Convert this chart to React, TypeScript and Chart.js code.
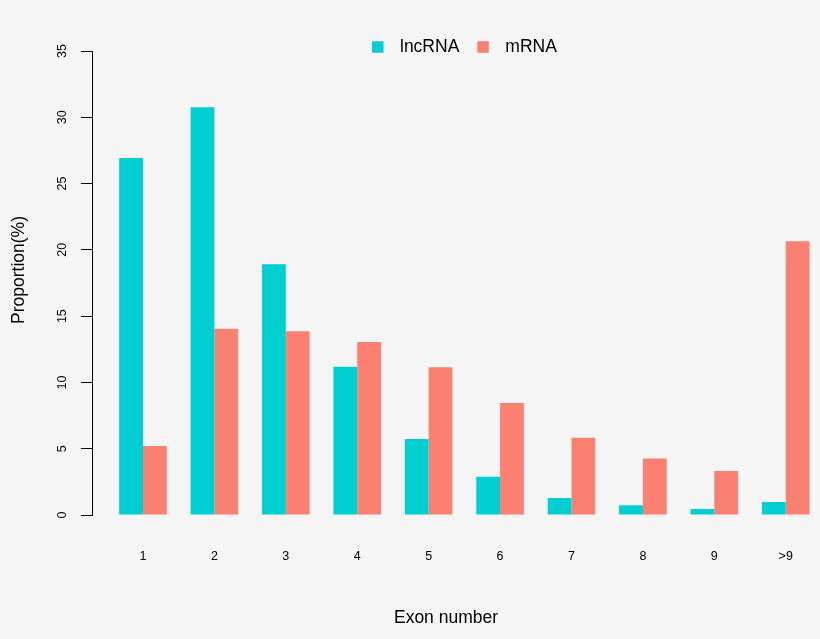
import React, { useEffect, useRef } from "react";
import { Chart, registerables } from "chart.js";

Chart.register(...registerables);

const categories = ["1", "2", "3", "4", "5", "6", "7", "8", "9", ">9"];
const lncRNA = [26.93, 30.75, 18.91, 11.19, 5.73, 2.89, 1.28, 0.73, 0.45, 0.98];
const mRNA = [5.2, 14.05, 13.86, 13.05, 11.14, 8.45, 5.83, 4.27, 3.32, 20.64];
const seriesNames = ["lncRNA", "mRNA"];
const seriesColors = ["#00CED1", "#FA8072"];
const yTickStep = 5;
const yMin = 0;
const yMax = 35;
const xTitle = "Exon number";
const yTitle = "Proportion(%)";

const FAMILY = '"Liberation Sans", Arial, Helvetica, sans-serif';
const BG = "#f5f5f5";

const overlayPlugin = {
  id: "overlay",
  beforeDraw(chart: any) {
    const ctx = chart.ctx;
    ctx.save();
    ctx.fillStyle = BG;
    ctx.fillRect(0, 0, chart.width, chart.height);
    ctx.restore();
  },
  afterDraw(chart: any) {
    const ctx = chart.ctx;
    // y-axis title
    ctx.save();
    ctx.font = `17.5px ${FAMILY}`;
    ctx.fillStyle = "#000";
    ctx.textAlign = "center";
    ctx.textBaseline = "middle";
    ctx.translate(19, 270);
    ctx.rotate(-Math.PI / 2);
    ctx.fillText(yTitle, 0, 0);
    ctx.restore();

    // legend
    ctx.save();
    ctx.font = `17.5px ${FAMILY}`;
    ctx.textAlign = "left";
    ctx.textBaseline = "middle";
    let x = 372;
    const cy = 47;
    const box = 11.5;
    chart.data.datasets.forEach((ds: any) => {
      ctx.fillStyle = ds.backgroundColor;
      ctx.fillRect(x, cy - box / 2, box, box);
      ctx.fillStyle = "#000";
      const tx = x + 28;
      ctx.fillText(ds.label, tx, cy);
      x = tx + ctx.measureText(ds.label).width + 18;
    });
    ctx.restore();
  },
};

export default function App() {
  const ref = useRef<HTMLCanvasElement>(null);

  useEffect(() => {
    if (!ref.current) return;
    const chart = new Chart(ref.current, {
      type: "bar",
      data: {
        datasets: [
          {
            label: seriesNames[0],
            data: lncRNA.map((v, i) => ({ x: i + 1, y: v })),
            backgroundColor: seriesColors[0],
            borderWidth: 0,
            categoryPercentage: 2 / 3,
            barPercentage: 1,
            clip: false as any,
          },
          {
            label: seriesNames[1],
            data: mRNA.map((v, i) => ({ x: i + 1, y: v })),
            backgroundColor: seriesColors[1],
            borderWidth: 0,
            categoryPercentage: 2 / 3,
            barPercentage: 1,
            clip: false as any,
          },
        ],
      },
      options: {
        animation: false,
        responsive: false,
        maintainAspectRatio: false,
        layout: { padding: { top: 51, right: 20, bottom: 0, left: 0 } },
        plugins: {
          legend: { display: false },
          tooltip: { enabled: false },
        },
        scales: {
          x: {
            type: "linear",
            offset: false,
            min: 0.286,
            max: 10.2,
            grid: { display: false, drawTicks: false, offset: false },
            border: { display: false },
            afterBuildTicks: (s: any) => {
              s.ticks = categories.map((_, i) => ({ value: i + 1 }));
            },
            afterFit: (s: any) => {
              s.height = 124;
              s.paddingLeft = 0;
              s.paddingRight = 0;
            },
            ticks: {
              autoSkip: false,
              maxRotation: 0,
              minRotation: 0,
              padding: 34,
              color: "#000",
              font: { size: 12.5, family: FAMILY },
              callback: (v: any) => categories[Math.round(Number(v)) - 1] ?? "",
            },
            title: {
              display: true,
              text: xTitle,
              color: "#000",
              font: { size: 17.5, family: FAMILY },
              padding: { top: 0, bottom: 10 },
            },
          },
          y: {
            type: "linear",
            min: yMin,
            max: yMax,
            afterFit: (s: any) => {
              s.width = 92;
            },
            ticks: {
              stepSize: yTickStep,
              minRotation: 90,
              maxRotation: 90,
              crossAlign: "center",
              padding: 12,
              color: "#000",
              font: { size: 12.5, family: FAMILY },
            },
            grid: {
              drawOnChartArea: false,
              drawTicks: true,
              tickLength: 11,
              color: "#000",
              lineWidth: 1,
            },
            border: { display: true, color: "#000", width: 1 },
          },
        },
      },
      plugins: [overlayPlugin],
    } as any);
    return () => chart.destroy();
  }, []);

  return (
    <div
      style={{
        position: "fixed",
        left: 0,
        top: 0,
        width: 820,
        height: 639,
        background: BG,
      }}
    >
      <canvas ref={ref} width={820} height={639} style={{ display: "block" }} />
    </div>
  );
}
